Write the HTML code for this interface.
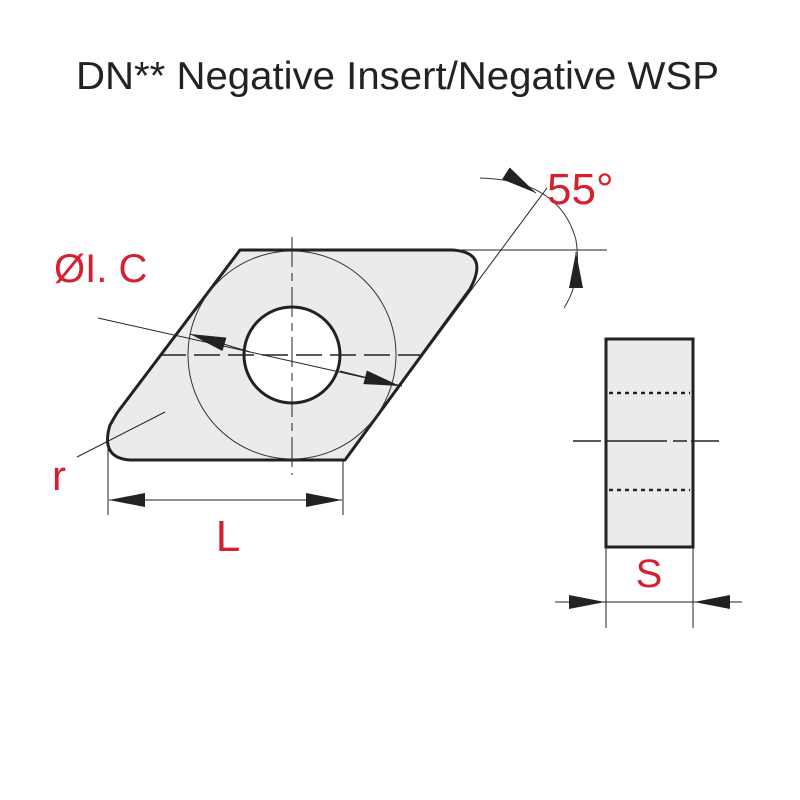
<!DOCTYPE html>
<html><head><style>
html,body{margin:0;padding:0;background:#fff;}
svg{display:block;}
</style></head><body>
<svg width="800" height="800" viewBox="0 0 800 800" xmlns="http://www.w3.org/2000/svg">
<defs>
<marker id="b" viewBox="0 0 10 10" refX="10" refY="5" markerWidth="36" markerHeight="14" markerUnits="userSpaceOnUse" orient="auto" preserveAspectRatio="none"><path d="M0,0 L10,5 L0,10 z" fill="#222"/></marker>
</defs>
<text x="76" y="89" textLength="643" lengthAdjust="spacingAndGlyphs" font-family="Liberation Sans, sans-serif" font-size="39" fill="#222">DN** Negative Insert/Negative WSP</text>

<!-- insert -->
<path d="M240,250 L452,250 Q490,252 470,289 L345,460 L130,460 Q100,458 110,425 L117,413 Z" fill="#ebebeb" stroke="#222" stroke-width="3" stroke-linejoin="round"/>
<circle cx="292" cy="355" r="104" fill="none" stroke="#333" stroke-width="1"/>
<circle cx="292" cy="355" r="48" fill="#fff" stroke="#222" stroke-width="3"/>
<line x1="292" y1="237" x2="292" y2="475" stroke="#222" stroke-width="1" stroke-dasharray="30,6,8,6"/>
<line x1="160" y1="355" x2="420" y2="355" stroke="#222" stroke-width="1.5" stroke-dasharray="26,8"/>

<!-- IC dimension -->
<line x1="98" y1="318" x2="402" y2="386" stroke="#222" stroke-width="1"/>
<line x1="250" y1="352" x2="190" y2="334" stroke="#222" stroke-width="1" marker-end="url(#b)"/>
<line x1="340" y1="371" x2="400" y2="386" stroke="#222" stroke-width="1" marker-end="url(#b)"/>

<!-- angle -->
<line x1="452" y1="250" x2="607" y2="250" stroke="#222" stroke-width="1"/>
<line x1="345" y1="460" x2="547" y2="188" stroke="#222" stroke-width="1"/>
<path d="M480,178 Q560,180 576,240 Q582,280 564,308" fill="none" stroke="#333" stroke-width="1"/>
<line x1="510" y1="176" x2="536" y2="193" stroke="#222" stroke-width="1" marker-end="url(#b)"/>
<line x1="576" y1="285" x2="576" y2="252" stroke="#222" stroke-width="1" marker-end="url(#b)"/>
<text x="547" y="204" font-family="Liberation Sans, sans-serif" font-size="44" fill="#d42030">55°</text>

<text x="54" y="282" font-family="Liberation Sans, sans-serif" font-size="40" fill="#d42030">ØI. C</text>

<!-- r -->
<line x1="77" y1="457" x2="165" y2="412" stroke="#222" stroke-width="1"/>
<text x="52" y="490" font-family="Liberation Sans, sans-serif" font-size="42" fill="#d42030">r</text>

<!-- L -->
<line x1="108" y1="432" x2="108" y2="515" stroke="#222" stroke-width="1"/>
<line x1="343" y1="460" x2="343" y2="515" stroke="#222" stroke-width="1"/>
<line x1="226" y1="500" x2="109" y2="500" stroke="#222" stroke-width="1" marker-end="url(#b)"/>
<line x1="225" y1="500" x2="342" y2="500" stroke="#222" stroke-width="1" marker-end="url(#b)"/>
<text x="228" y="551" text-anchor="middle" font-family="Liberation Sans, sans-serif" font-size="44" fill="#d42030">L</text>

<!-- side view -->
<rect x="606" y="339" width="87" height="208" fill="#ebebeb" stroke="#222" stroke-width="3"/>
<line x1="609" y1="393" x2="690" y2="393" stroke="#222" stroke-width="2.5" stroke-dasharray="4,4"/>
<line x1="609" y1="490" x2="690" y2="490" stroke="#222" stroke-width="2.5" stroke-dasharray="4,4"/>
<line x1="573" y1="441" x2="725" y2="441" stroke="#222" stroke-width="1.5" stroke-dasharray="28,6,60,6,14,4"/>
<line x1="606" y1="547" x2="606" y2="628" stroke="#222" stroke-width="1"/>
<line x1="693" y1="547" x2="693" y2="628" stroke="#222" stroke-width="1"/>
<line x1="555" y1="602" x2="742" y2="602" stroke="#222" stroke-width="1"/>
<line x1="570" y1="602" x2="605" y2="602" stroke="#222" stroke-width="1" marker-end="url(#b)"/>
<line x1="728" y1="602" x2="694" y2="602" stroke="#222" stroke-width="1" marker-end="url(#b)"/>
<text x="649" y="587" text-anchor="middle" font-family="Liberation Sans, sans-serif" font-size="40" fill="#d42030">S</text>
</svg>
</body></html>
